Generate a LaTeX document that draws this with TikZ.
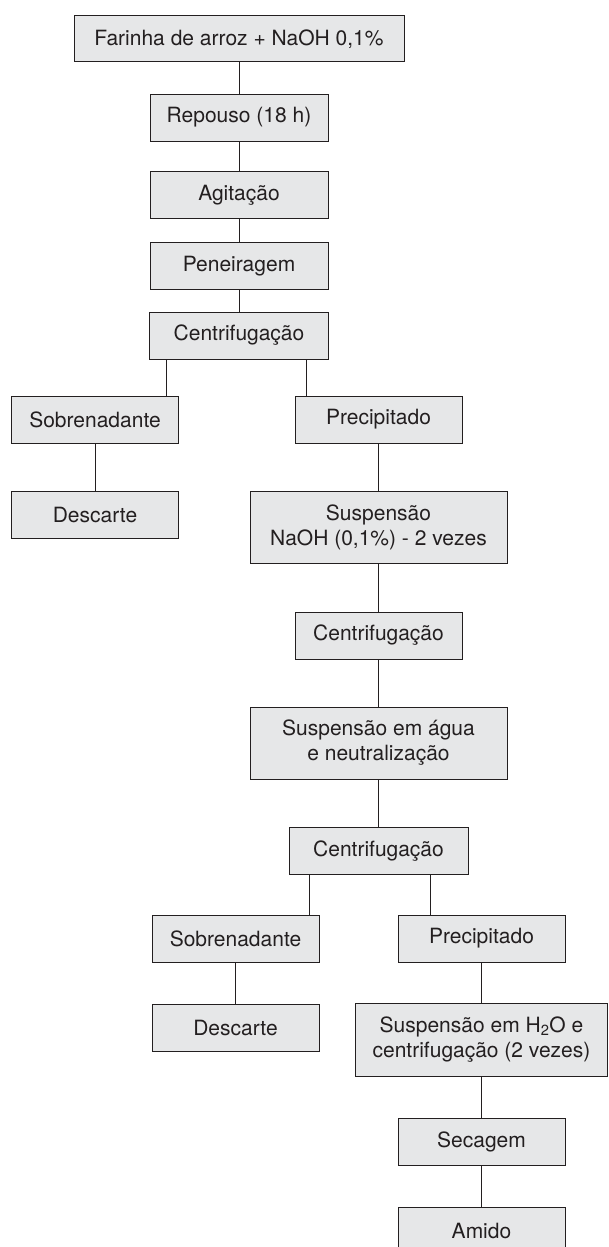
\documentclass[tikz,border=0pt]{standalone}
\usepackage{fontspec}
\setmainfont{TeX Gyre Heros}
\usetikzlibrary{shapes,arrows,positioning,calc,fit}
\definecolor{caixa}{HTML}{E6E7E8}
\definecolor{tinta}{HTML}{231F20}

\begin{document}
\begin{tikzpicture}[x=1pt, y=1pt, node distance=50pt,
  etapa/.style={draw=tinta, fill=caixa, line width=1pt, rectangle, minimum width=167pt, minimum height=47pt, align=center, text=tinta, inner sep=3pt, font=\fontsize{21}{25}\selectfont},
  liga/.style={draw=tinta, line width=1pt}]
\useasboundingbox (0,0) rectangle (608,-1247);

% coluna principal
\node[etapa, minimum width=330pt, minimum height=46pt] (farinha) at (239,-39) {Farinha de arroz + NaOH 0,1\%};
\node[etapa, minimum width=178pt, below of=farinha, yshift=-28.5pt] (repouso) {Repouso (18 h)};
\node[etapa, minimum width=178pt, below of=repouso, yshift=-27.5pt] (agitacao) {Agitação};
\node[etapa, minimum width=178pt, below of=agitacao, yshift=-21pt] (peneira) {Peneiragem};
\node[etapa, minimum width=179pt, below of=peneira, yshift=-19.5pt] (centr1) {Centrifugação};

% primeira separação
\node[etapa, below of=centr1, xshift=-144pt, yshift=-34pt] (sobren1) {Sobrenadante};
\node[etapa, below of=centr1, xshift=139.5pt, yshift=-34pt] (precip1) {Precipitado};
\node[etapa, below of=sobren1, yshift=-45pt] (descarte1) {Descarte};

% lavagens
\node[etapa, minimum width=257pt, minimum height=72pt, below of=precip1, yshift=-57.5pt] (susp1) {Suspensão\\NaOH (0,1\%) - 2 vezes};
\node[etapa, below of=susp1, yshift=-58.5pt] (centr2) {Centrifugação};
\node[etapa, minimum width=257pt, minimum height=72pt, below of=centr2, yshift=-57.5pt] (agua) {Suspensão em água\\e neutralização};
\node[etapa, minimum width=179pt, below of=agua, yshift=-58pt] (centr3) {Centrifugação};

% segunda separação
\node[etapa, below of=centr3, xshift=-143pt, yshift=-37.5pt] (sobren2) {Sobrenadante};
\node[etapa, below of=centr3, xshift=103pt, yshift=-37.5pt] (precip2) {Precipitado};
\node[etapa, below of=sobren2, yshift=-39pt] (descarte2) {Descarte};

% produto final
\node[etapa, minimum width=252pt, minimum height=73pt, below of=precip2, yshift=-51pt] (susph2o) {Suspensão em H\textsubscript{2}O e\\centrifugação (2 vezes)};
\node[etapa, below of=susph2o, yshift=-52pt] (secagem) {Secagem};
\node[etapa, below of=secagem, yshift=-39pt] (amido) {Amido};

% ligações
\draw[liga] (farinha) -- (repouso);
\draw[liga] (repouso) -- (agitacao);
\draw[liga] (agitacao) -- (peneira);
\draw[liga] (peneira) -- (centr1);
\draw[liga] ([xshift=-13pt]sobren1.north east) -- ([xshift=-13pt]sobren1.north east |- centr1.south);
\draw[liga] ([xshift=12pt]precip1.north west) -- ([xshift=12pt]precip1.north west |- centr1.south);
\draw[liga] (sobren1) -- (descarte1);
\draw[liga] (precip1) -- (susp1);
\draw[liga] (susp1) -- (centr2);
\draw[liga] (centr2) -- (agua);
\draw[liga] (agua) -- (centr3);
\draw[liga] ([xshift=-10pt]sobren2.north east) -- ([xshift=-10pt]sobren2.north east |- centr3.south);
\draw[liga] ([xshift=33pt]precip2.north west) -- ([xshift=33pt]precip2.north west |- centr3.south);
\draw[liga] (sobren2) -- (descarte2);
\draw[liga] (precip2) -- (susph2o);
\draw[liga] (susph2o) -- (secagem);
\draw[liga] (secagem) -- (amido);
\end{tikzpicture}
\end{document}
